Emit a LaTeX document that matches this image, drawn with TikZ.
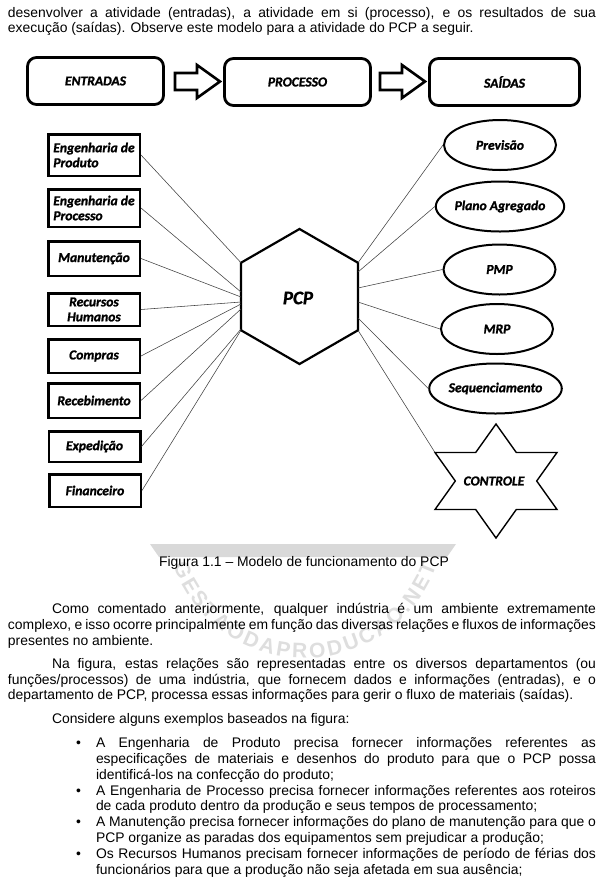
\documentclass[tikz,border=0pt]{standalone}
\usepackage{fontspec}
\setmainfont{Liberation Sans}
\newfontfamily\calfont[BoldItalicFeatures={FakeBold=1.3},BoldFeatures={FakeBold=1.3}]{Carlito}
\usetikzlibrary{shapes.geometric,decorations.text}
\newcommand\myBody{\fontsize{13.9}{16}\selectfont}
\newcommand\jl[2]{\makebox[#1][s]{\spaceskip=0.278em plus 3em minus 0.12em\relax #2}}
\begin{document}
\begin{tikzpicture}[x=1pt,y=-1pt,
  body/.style={anchor=base west,inner sep=0pt,outer sep=0pt,font=\myBody},
  dfont/.style={font=\calfont\bfseries\itshape\fontsize{13.6}{15}\selectfont},
  topbox/.style={dfont,draw,line width=2.8pt,rounded corners=9pt,inner sep=0pt,minimum height=47pt},
  lbox/.style={dfont,draw,line width=2.5pt,inner sep=0pt,minimum width=91.5pt},
  ell/.style={dfont,draw,ellipse,line width=2pt,inner sep=0pt,minimum width=112pt,minimum height=50pt},
  blockarrow/.style={draw,line width=2.6pt,fill=white,line join=miter},
  conn/.style={draw=black!75,line width=0.55pt},
  wm/.style={fill=black!15,draw=none}
]
\useasboundingbox (0,0) rectangle (603,887);
\fill[white] (0,0) rectangle (603,887);

% watermark
\fill[wm] (150,544) -- (456,544) -- (447,557) -- (159,557) -- cycle;
\path[decorate,decoration={text along path,text align={fit to path},
  text={|\fontsize{21}{21}\selectfont\bfseries\color{black!13}|GESTAODAPRODUCAO.NET}}]
  (173.4,565.9) arc[start angle=200,end angle=340,radius=140pt];

% top text
\node[body] (t1) at (8,17.5) {\jl{588pt}{desenvolver a atividade (entradas), a atividade em si (processo), e os resultados de sua}};
\node[body] (t2) at (8,32.5) {execução (saídas). Observe este modelo para a atividade do PCP a seguir.};

% top row
\node[topbox,minimum width=136pt] (ent) at (95.5,81) {ENTRADAS};
\node[topbox,minimum width=146pt] (proc) at (297.5,82) {PROCESSO};
\node[topbox,minimum width=150pt] (said) at (504.5,82) {SAÍDAS};
\draw[blockarrow] (175,73) -- (197,73) -- (197,65) -- (220,81.5) -- (197,98) -- (197,90) -- (175,90) -- cycle;
\draw[blockarrow] (380,73) -- (402,73) -- (402,65) -- (425,81.5) -- (402,98) -- (402,90) -- (380,90) -- cycle;

% left boxes
\node[lbox,minimum height=41.5pt,align=left] (ep) at (94,155) {Engenharia de\\Produto};
\node[lbox,minimum height=37.5pt,align=left] (epr) at (94,208) {Engenharia de\\Processo};
\node[lbox,minimum height=34.5pt] (man) at (94,258.5) {Manutenção};
\node[lbox,minimum height=32.5pt,align=center] (rh) at (94,309.5) {Recursos\\Humanos};
\node[lbox,minimum height=33.5pt] (comp) at (94,356) {Compras};
\node[lbox,minimum height=34.5pt] (rec) at (94,400.5) {Recebimento};
\node[lbox,minimum height=30.5pt] (exp) at (94.5,446.5) {Expedição};
\node[lbox,minimum height=32.5pt] (fin) at (95,490.5) {Financeiro};

% hexagon
\draw[line width=2.2pt,line join=miter] (299.5,229) -- (358,262.75) -- (358,330.25) -- (299.5,364) -- (241,330.25) -- (241,262.75) -- cycle;
\node[font=\calfont\bfseries\itshape\fontsize{19}{20}\selectfont] (pcp) at (298,298) {PCP};
\coordinate (hl1) at (241,262.75);
\coordinate (hl2) at (241,292);
\coordinate (hl3) at (241,297);
\coordinate (hl4) at (241,302);
\coordinate (hl5) at (241,304);
\coordinate (hl6) at (241,309);
\coordinate (hl7) at (241,329);
\coordinate (hl8) at (241,330.25);
\coordinate (hr1) at (358,262.75);
\coordinate (hr2) at (358,272);
\coordinate (hr3) at (358,288);
\coordinate (hr4) at (358,302);
\coordinate (hr5) at (358,318);
\coordinate (hr6) at (358,330.25);

% right ellipses
\node[ell] (prev) at (500,145) {Previsão};
\node[ell] (plano) at (500,206.5) {Plano Agregado};
\node[ell] (pmp) at (499.5,269.5) {PMP};
\node[ell] (mrp) at (497,329) {MRP};
\node[ell,minimum width=111pt] (seq) at (495.5,388.5) {Sequenciamento};

% star
\draw[line width=1.4pt,line join=miter] (496,424) -- (516.3,452.5) -- (557,452.5) -- (536.7,481) -- (557,509.5) -- (516.3,509.5) -- (496,538) -- (475.7,509.5) -- (435,509.5) -- (455.3,481) -- (435,452.5) -- (475.7,452.5) -- cycle;
\coordinate (starUL) at (435,452.5);
\node[dfont] (ctrl) at (494,481) {CONTROLE};

% connectors
\draw[conn] (ep.east) -- (hl1);
\draw[conn] (epr.east) -- (hl2);
\draw[conn] (man.east) -- (hl3);
\draw[conn] (rh.east) -- (hl4);
\draw[conn] (comp.east) -- (hl5);
\draw[conn] (rec.east) -- (hl6);
\draw[conn] (exp.east) -- (hl7);
\draw[conn] (fin.east) -- (hl8);
\draw[conn] (hr1) -- (prev.west);
\draw[conn] (hr2) -- (plano.west);
\draw[conn] (hr3) -- (pmp.west);
\draw[conn] (hr4) -- (mrp.west);
\draw[conn] (hr5) -- (seq.west);
\draw[conn] (hr6) -- (starUL);

% caption
\node[font=\myBody,inner sep=0pt,anchor=base] (cap) at (304,566) {Figura 1.1 – Modelo de funcionamento do PCP};

% paragraphs
\node[body] (p1a) at (52,613.5) {\jl{544pt}{Como comentado anteriormente, qualquer indústria é um ambiente extremamente}};
\node[body] (p1b) at (8,629.5) {\jl{588pt}{complexo, e isso ocorre principalmente em função das diversas relações e fluxos de informações}};
\node[body] (p1c) at (8,645) {presentes no ambiente.};
\node[body] (p2a) at (52,668.5) {\jl{544pt}{Na figura, estas relações são representadas entre os diversos departamentos (ou}};
\node[body] (p2b) at (8,684.5) {\jl{588pt}{funções/processos) de uma indústria, que fornecem dados e informações (entradas), e o}};
\node[body] (p2c) at (8,699.5) {departamento de PCP, processa essas informações para gerir o fluxo de materiais (saídas).};
\node[body] (p3) at (52,723.5) {Considere alguns exemplos baseados na figura:};

\node[body] (b1) at (76,747.5) {•};
\node[body] (b1a) at (96,747.5) {\jl{500pt}{A Engenharia de Produto precisa fornecer informações referentes as}};
\node[body] (b1b) at (96,763.5) {\jl{500pt}{especificações de materiais e desenhos do produto para que o PCP possa}};
\node[body] (b1c) at (96,779.5) {identificá-los na confecção do produto;};
\node[body] (b2) at (76,795.5) {•};
\node[body] (b2a) at (96,795.5) {\jl{500pt}{A Engenharia de Processo precisa fornecer informações referentes aos roteiros}};
\node[body] (b2b) at (96,810.5) {de cada produto dentro da produção e seus tempos de processamento;};
\node[body] (b3) at (76,826.5) {•};
\node[body] (b3a) at (96,826.5) {\jl{500pt}{A Manutenção precisa fornecer informações do plano de manutenção para que o}};
\node[body] (b3b) at (96,842.5) {PCP organize as paradas dos equipamentos sem prejudicar a produção;};
\node[body] (b4) at (76,858.5) {•};
\node[body] (b4a) at (96,858.5) {\jl{500pt}{Os Recursos Humanos precisam fornecer informações de período de férias dos}};
\node[body] (b4b) at (96,874.5) {funcionários para que a produção não seja afetada em sua ausência;};
\end{tikzpicture}
\end{document}
